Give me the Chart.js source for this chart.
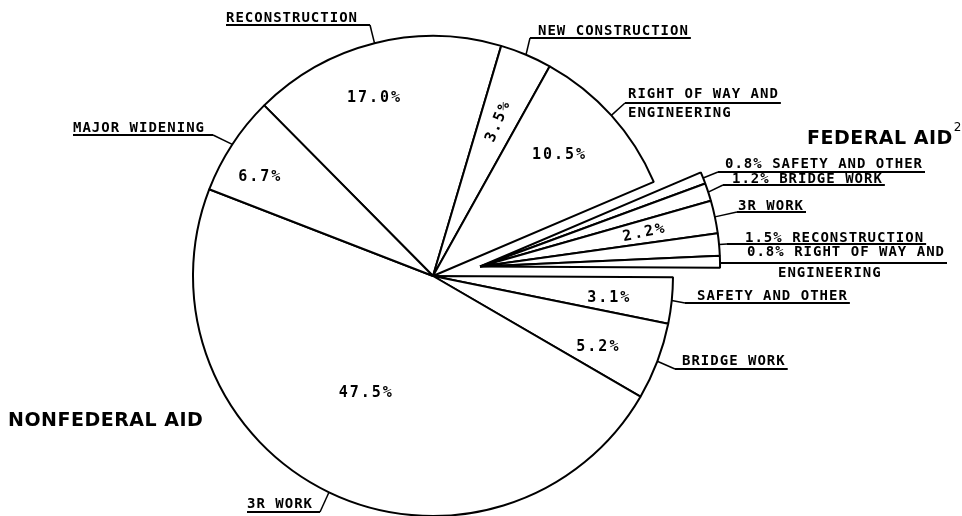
<!DOCTYPE html>
<html>
<head>
<meta charset="utf-8">
<script src="https://cdn.jsdelivr.net/npm/chart.js@4.4.1/dist/chart.umd.min.js"></script>
<style>
  html, body { margin: 0; padding: 0; background: #fff; }
  #wrap { position: relative; width: 962px; height: 516px; }
</style>
</head>
<body>
<div id="wrap"><canvas id="aidPie"></canvas></div>
<script>
// slices, clockwise from the upper left
const categories = [
  ["RECONSTRUCTION"],
  ["NEW CONSTRUCTION"],
  ["RIGHT OF WAY AND", "ENGINEERING"],
  ["SAFETY AND OTHER"],
  ["BRIDGE WORK"],
  ["3R WORK"],
  ["RECONSTRUCTION"],
  ["RIGHT OF WAY AND", "ENGINEERING"],
  ["SAFETY AND OTHER"],
  ["BRIDGE WORK"],
  ["3R WORK"],
  ["MAJOR WIDENING"]
];
const groups = ["nonfederal", "nonfederal", "nonfederal",
  "federal", "federal", "federal", "federal", "federal",
  "nonfederal", "nonfederal", "nonfederal", "nonfederal"];
const shares = [17.0, 3.5, 10.5, 0.8, 1.2, 2.2, 1.5, 0.8, 3.1, 5.2, 47.5, 6.7];

// where the percentage sits inside a slice (null = shown in the outside tag)
const pctLayout = [
  { frac: 0.78, turn: -4.1 },
  { frac: 0.70, turn: 0.1, along: true },
  { frac: 0.73, turn: -1.8 },
  null, null,
  { frac: 0.70, turn: 0.35, along: true },
  null, null,
  { frac: 0.74, turn: 1.2 },
  { frac: 0.75, turn: 2.45 },
  { frac: 0.56, turn: 4.1 },
  { frac: 0.83, turn: -3.35 }
];

// outside tags: leader meets the underline at lineX
const tagLayout = [
  { side: "right", lineX: 370, lineY: 25,  textX: 226, rows: [22] },
  { side: "left",  lineX: 530, lineY: 38,  textX: 538, rows: [35] },
  { side: "left",  lineX: 625, lineY: 103, textX: 628, rows: [98, 117], row2X: 628 },
  { side: "left",  lineX: 718, lineY: 172, textX: 725, rows: [168] },
  { side: "left",  lineX: 723, lineY: 185, textX: 732, rows: [183] },
  { side: "left",  lineX: 737, lineY: 212, textX: 738, rows: [210] },
  { side: "left",  lineX: 727, lineY: 244, textX: 745, rows: [242] },
  { side: "left",  lineX: 720, lineY: 263, textX: 747, rows: [256, 277], row2X: 778 },
  { side: "left",  lineX: 685, lineY: 303, textX: 697, rows: [300] },
  { side: "left",  lineX: 675, lineY: 369, textX: 682, rows: [365] },
  { side: "right", lineX: 320, lineY: 512, textX: 247, rows: [508] },
  { side: "right", lineX: 213, lineY: 135, textX: 73,  rows: [132] }
];

const FED_SHIFT = 48;
const SMALL_FONT = 'bold 14px "DejaVu Sans Mono"';
const PCT_FONT = 'bold 15px "DejaVu Sans Mono"';
const BIG_FONT = 'bold 19px "DejaVu Sans"';

const pct = v => v.toFixed(1) + "%";

// pull the federal wedges out together, sharing one apex
const explodeFederal = {
  id: "explodeFederal",
  afterDatasetUpdate(chart, args) {
    const arcs = args.meta.data;
    const idx = groups.map((g, i) => g === "federal" ? i : -1).filter(i => i >= 0);
    const mid = (arcs[idx[0]].startAngle + arcs[idx[idx.length - 1]].endAngle) / 2;
    idx.forEach(i => {
      arcs[i].x += Math.cos(mid) * FED_SHIFT;
      arcs[i].y += Math.sin(mid) * FED_SHIFT;
    });
  }
};

const sliceText = {
  id: "sliceText",
  afterDraw(chart) {
    const ctx = chart.ctx;
    const arcs = chart.getDatasetMeta(0).data;
    ctx.save();
    ctx.fillStyle = "#000";
    ctx.strokeStyle = "#000";

    arcs.forEach((arc, i) => {
      const mid = (arc.startAngle + arc.endAngle) / 2;
      const R = arc.outerRadius;

      // percentage inside
      const p = pctLayout[i];
      if (p) {
        const a = mid + p.turn * Math.PI / 180;
        const px = arc.x + Math.cos(a) * R * p.frac;
        const py = arc.y + Math.sin(a) * R * p.frac;
        ctx.save();
        ctx.font = PCT_FONT;
        ctx.letterSpacing = "2px";
        ctx.textAlign = "center";
        ctx.textBaseline = "middle";
        ctx.translate(px, py);
        if (p.along) ctx.rotate(mid);
        ctx.fillText(pct(shares[i]), 0, 0);
        ctx.restore();
      }

      // outside tag with leader and underline
      const t = tagLayout[i];
      const rows = categories[i].slice();
      if (!p) rows[0] = pct(shares[i]) + " " + rows[0];
      ctx.font = SMALL_FONT;
      ctx.letterSpacing = "1px";
      ctx.textAlign = "left";
      ctx.textBaseline = "alphabetic";
      let w = 0;
      rows.forEach((r, k) => {
        const x = k === 0 ? t.textX : t.row2X;
        ctx.fillText(r, x, t.rows[k]);
        w = Math.max(w, x + ctx.measureText(r).width - t.textX);
      });
      const sx = arc.x + Math.cos(mid) * R;
      const sy = arc.y + Math.sin(mid) * R;
      ctx.lineWidth = 1.5;
      ctx.beginPath();
      ctx.moveTo(sx, sy);
      ctx.lineTo(t.lineX, t.lineY);
      ctx.stroke();
      ctx.lineWidth = 2;
      ctx.beginPath();
      if (t.side === "left") {
        ctx.moveTo(t.lineX, t.lineY);
        ctx.lineTo(t.textX + w + 2, t.lineY);
      } else {
        ctx.moveTo(t.textX, t.lineY);
        ctx.lineTo(t.lineX, t.lineY);
      }
      ctx.stroke();
    });

    // group titles
    ctx.font = BIG_FONT;
    ctx.letterSpacing = "0.5px";
    ctx.textAlign = "left";
    ctx.fillText("NONFEDERAL AID", 8, 426);
    ctx.fillText("FEDERAL AID", 807, 144);
    const fw = ctx.measureText("FEDERAL AID").width;
    ctx.font = '12px "DejaVu Sans"';
    ctx.letterSpacing = "0px";
    ctx.fillText("2", 807 + fw + 1, 131);
    ctx.restore();
  }
};

new Chart(document.getElementById("aidPie"), {
  type: "pie",
  data: {
    labels: categories.map(c => c.join(" ")),
    datasets: [{
      data: shares,
      backgroundColor: "#fff",
      borderColor: "#000",
      borderWidth: 2,
      hoverOffset: 0
    }]
  },
  options: {
    responsive: true,
    maintainAspectRatio: false,
    animation: false,
    events: [],
    rotation: -44.7,
    radius: 240,
    layout: { padding: { left: 0, right: 96, top: 36, bottom: 0 } },
    plugins: {
      legend: { display: false },
      tooltip: { enabled: false },
      title: { display: false }
    }
  },
  plugins: [explodeFederal, sliceText]
});
</script>
</body>
</html>
